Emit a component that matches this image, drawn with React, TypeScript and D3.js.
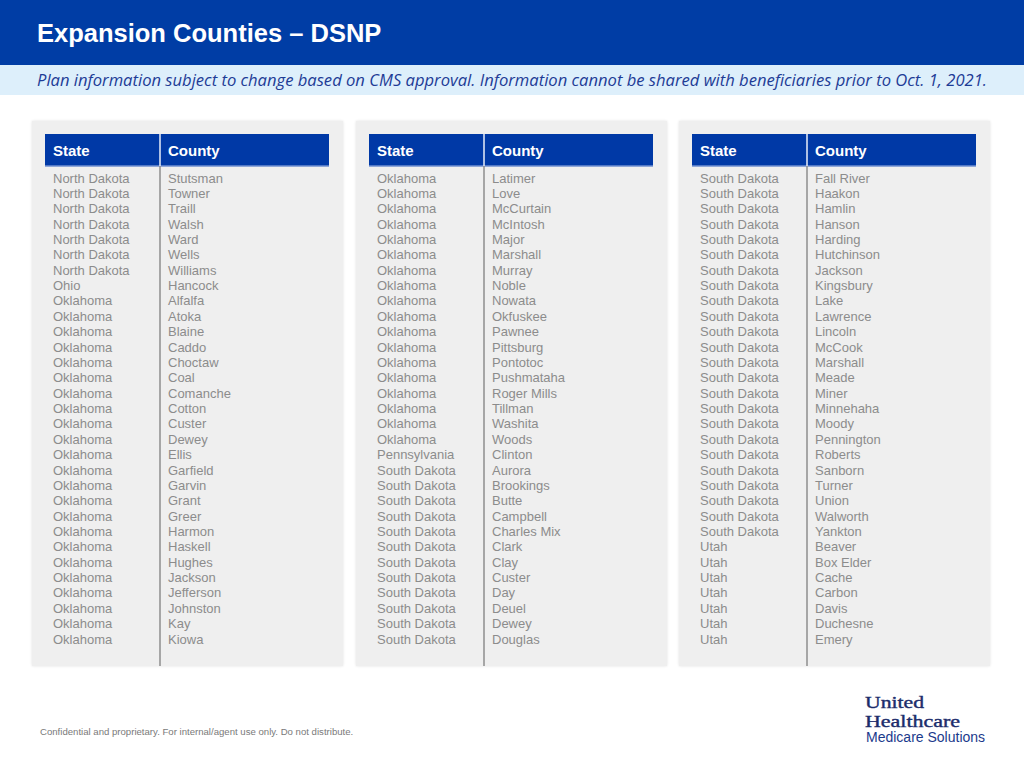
import React from "react";
import * as d3 from "d3";

const title = "Expansion Counties – DSNP";
const subtitle =
  "Plan information subject to change based on CMS approval. Information cannot be shared with beneficiaries prior to Oct. 1, 2021.";
const footer = "Confidential and proprietary. For internal/agent use only. Do not distribute.";
const headers = ["State", "County"];
const logoLines = ["United", "Healthcare"];
const logoSub = "Medicare Solutions";

const states1 = [
  ...Array(7).fill("North Dakota"),
  "Ohio",
  ...Array(23).fill("Oklahoma"),
];
const counties1 = [
  "Stutsman", "Towner", "Traill", "Walsh", "Ward", "Wells", "Williams", "Hancock",
  "Alfalfa", "Atoka", "Blaine", "Caddo", "Choctaw", "Coal", "Comanche", "Cotton",
  "Custer", "Dewey", "Ellis", "Garfield", "Garvin", "Grant", "Greer", "Harmon",
  "Haskell", "Hughes", "Jackson", "Jefferson", "Johnston", "Kay", "Kiowa",
];
const states2 = [
  ...Array(18).fill("Oklahoma"),
  "Pennsylvania",
  ...Array(12).fill("South Dakota"),
];
const counties2 = [
  "Latimer", "Love", "McCurtain", "McIntosh", "Major", "Marshall", "Murray", "Noble",
  "Nowata", "Okfuskee", "Pawnee", "Pittsburg", "Pontotoc", "Pushmataha", "Roger Mills",
  "Tillman", "Washita", "Woods", "Clinton", "Aurora", "Brookings", "Butte", "Campbell",
  "Charles Mix", "Clark", "Clay", "Custer", "Day", "Deuel", "Dewey", "Douglas",
];
const states3 = [
  ...Array(24).fill("South Dakota"),
  ...Array(7).fill("Utah"),
];
const counties3 = [
  "Fall River", "Haakon", "Hamlin", "Hanson", "Harding", "Hutchinson", "Jackson",
  "Kingsbury", "Lake", "Lawrence", "Lincoln", "McCook", "Marshall", "Meade", "Miner",
  "Minnehaha", "Moody", "Pennington", "Roberts", "Sanborn", "Turner", "Union",
  "Walworth", "Yankton", "Beaver", "Box Elder", "Cache", "Carbon", "Davis",
  "Duchesne", "Emery",
];

const tables = [
  { states: states1, counties: counties1 },
  { states: states2, counties: counties2 },
  { states: states3, counties: counties3 },
];

const W = 1024;
const H = 768;

export default function App() {
  const panelX = d3.scaleOrdinal<number, number>().domain([0, 1, 2]).range([32, 356, 679]);
  const rowY = d3.scaleLinear().domain([0, 30]).range([178, 639]);
  const panelW = 311;
  const panelTop = 121;
  const panelBottom = 666;
  const hdrTop = 134;
  const hdrH = 32;
  const font = "'Liberation Sans', Arial, Helvetica, sans-serif";
  const serif = "'Liberation Serif', 'DejaVu Serif', serif";

  return (
    <svg
      width={W}
      height={H}
      viewBox={`0 0 ${W} ${H}`}
      style={{ position: "absolute", left: 0, top: 0, background: "#fff" }}
    >
      <defs>
        <filter id="sh" x="-5%" y="-5%" width="110%" height="110%">
          <feGaussianBlur in="SourceAlpha" stdDeviation="1.5" />
          <feOffset dx="0" dy="0" result="b" />
          <feComponentTransfer>
            <feFuncA type="linear" slope="0.12" />
          </feComponentTransfer>
          <feMerge>
            <feMergeNode />
            <feMergeNode in="SourceGraphic" />
          </feMerge>
        </filter>
      </defs>
      <rect x={0} y={0} width={W} height={H} fill="#fff" />
      <rect x={0} y={0} width={W} height={65} fill="#003DA5" />
      <text x={37} y={42} fill="#fff" fontFamily={font} fontWeight="bold" fontSize={25.5}>
        {title}
      </text>
      <rect x={0} y={65} width={W} height={30} fill="#DDEFFB" />
      <text
        x={37}
        y={86}
        fill="#1E3C96"
        fontFamily="'Open Sans', 'Noto Sans', sans-serif"
        fontStyle="italic"
        fontSize={15.5}
        textLength={950}
        lengthAdjust="spacingAndGlyphs"
      >
        {subtitle}
      </text>

      {tables.map((t, ti) => {
        const x0 = panelX(ti);
        const hx = x0 + 13;
        const hw = 284;
        const div = x0 + 128;
        return (
          <g key={ti}>
            <rect
              x={x0}
              y={panelTop}
              width={panelW}
              height={panelBottom - panelTop}
              fill="#EFEFEF"
              filter="url(#sh)"
            />
            <rect x={hx} y={hdrTop} width={hw} height={hdrH} fill="#0039A6" />
            <line x1={hx} x2={hx + hw} y1={hdrTop + hdrH} y2={hdrTop + hdrH} stroke="#6F8FD0" strokeWidth={1.5} />
            <line x1={div} x2={div} y1={hdrTop} y2={hdrTop + hdrH} stroke="#E8EEF8" strokeWidth={1.5} />
            <line x1={div} x2={div} y1={hdrTop + hdrH} y2={panelBottom} stroke="#8E8E8E" strokeWidth={1.5} />
            <text x={hx + 8} y={hdrTop + 22} fill="#fff" fontFamily={font} fontWeight="bold" fontSize={15}>
              {headers[0]}
            </text>
            <text x={div + 8} y={hdrTop + 22} fill="#fff" fontFamily={font} fontWeight="bold" fontSize={15}>
              {headers[1]}
            </text>
            {t.states.map((s, i) => (
              <text
                key={"s" + i}
                x={hx + 8}
                y={rowY(i)}
                dy="0.35em"
                fill="#8C8C8C"
                fontFamily={font}
                fontSize={13}
              >
                {s}
              </text>
            ))}
            {t.counties.map((c, i) => (
              <text
                key={"c" + i}
                x={div + 8}
                y={rowY(i)}
                dy="0.35em"
                fill="#8C8C8C"
                fontFamily={font}
                fontSize={13}
              >
                {c}
              </text>
            ))}
          </g>
        );
      })}

      <text x={40} y={735} fill="#7A7A7A" fontFamily={font} fontSize={9.6}>
        {footer}
      </text>

      <text
        x={865}
        y={708}
        fill="#1B2C6B"
        fontFamily={serif}
        fontSize={17}
        stroke="#1B2C6B"
        strokeWidth={0.4}
        textLength={59}
        lengthAdjust="spacingAndGlyphs"
      >
        {logoLines[0]}
      </text>
      <text
        x={865}
        y={727}
        fill="#1B2C6B"
        fontFamily={serif}
        fontSize={17}
        stroke="#1B2C6B"
        strokeWidth={0.4}
        textLength={95}
        lengthAdjust="spacingAndGlyphs"
      >
        {logoLines[1]}
      </text>
      <text x={866} y={742} fill="#1B3A8C" fontFamily={font} fontSize={14}>
        {logoSub}
      </text>
    </svg>
  );
}
